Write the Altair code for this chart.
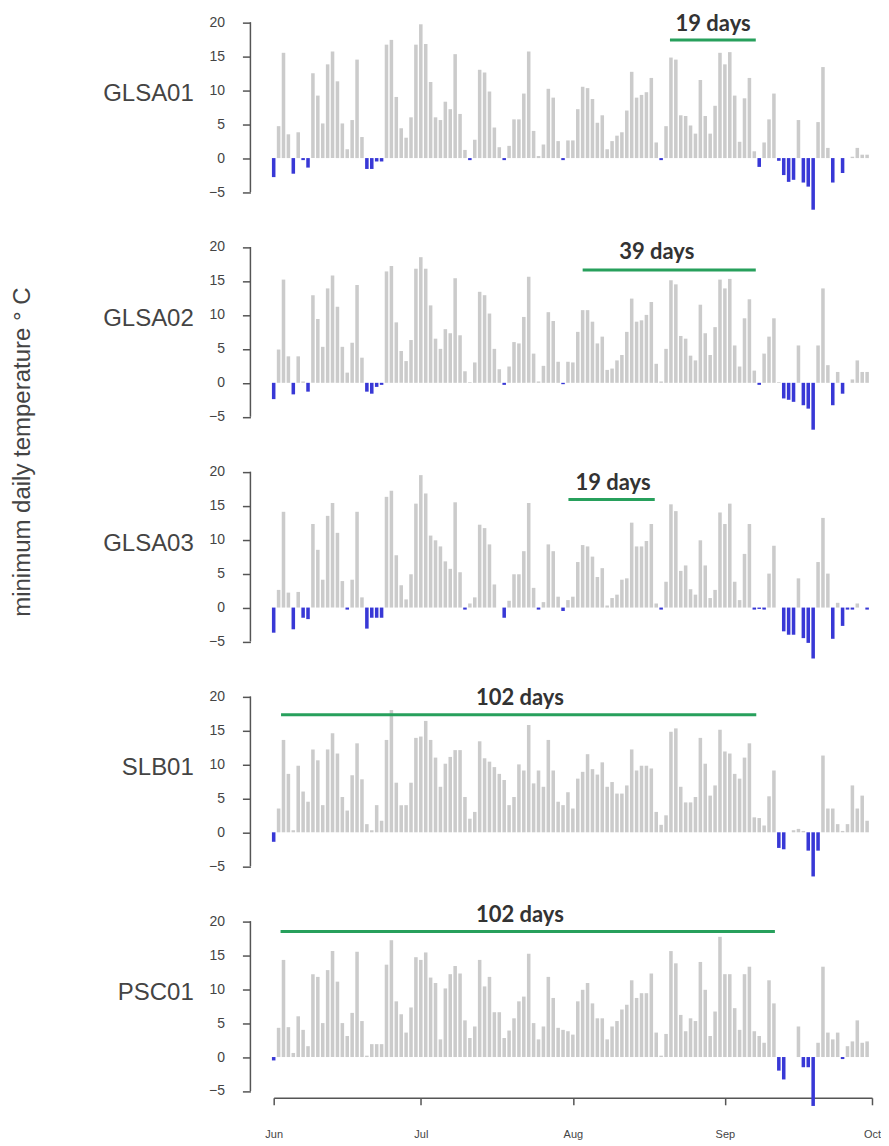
import json
import altair as alt
import pandas as pd

# ---------------- data ----------------
stations = ["GLSA01", "GLSA02", "GLSA03", "SLB01", "PSC01"]

glsa01 = [-2.8, 4.7, 15.5, 3.5, -2.3, 3.8, -0.3, -1.4, 12.5, 9.2,
          5.1, 13.8, 15.7, 11.3, 5.1, 1.3, 5.6, 14.5, 3.1, -1.6,
          -1.6, -0.5, -0.5, 16.7, 17.4, 9.0, 4.4, 3.0, 6.0, 16.7,
          19.7, 16.8, 11.2, 6.0, 5.6, 8.3, 7.2, 15.3, 6.5, 1.2,
          -0.3, 2.7, 13.0, 12.6, 9.8, 4.5, 1.6, -0.3, 1.8, 5.7,
          5.7, 9.5, 15.7, 4.0, 0.3, 2.0, 10.2, 8.9, 2.5, -0.3,
          2.6, 2.6, 7.2, 10.5, 10.3, 8.7, 5.2, 6.3, 1.3, 2.5,
          3.3, 3.8, 7.0, 12.7, 8.9, 9.3, 9.7, 11.8, 2.3, -0.3,
          4.7, 14.8, 14.5, 6.3, 6.2, 4.8, 3.6, 11.5, 6.2, 3.6,
          7.7, 15.5, 13.8, 15.6, 9.2, 2.4, 8.8, 11.8, 1.0, -1.3,
          2.3, 5.7, 9.5, -0.4, -2.5, -3.5, -3.2, 5.6, -3.6, -4.2,
          -7.6, 5.3, 13.4, 1.5, -3.6, 0.0, -2.2, 0.0, 0.2, 1.5,
          0.5, 0.5]

glsa02 = [-2.4, 4.9, 15.2, 3.9, -1.7, 3.9, 0.2, -1.3, 12.9, 9.4,
          5.3, 13.9, 15.8, 11.2, 5.3, 1.5, 5.9, 14.4, 3.7, -1.3,
          -1.6, -0.6, -0.3, 16.4, 17.2, 8.9, 4.7, 3.2, 6.3, 16.8,
          18.5, 16.8, 11.4, 6.5, 5.0, 7.9, 7.3, 15.4, 7.0, 1.7,
          0.1, 3.0, 13.4, 12.9, 10.2, 5.0, 2.0, -0.3, 2.4, 6.0,
          5.8, 9.7, 15.6, 4.3, 0.2, 2.5, 10.4, 9.1, 3.1, -0.2,
          3.1, 3.0, 7.5, 10.7, 10.7, 9.0, 5.8, 6.8, 1.9, 2.1,
          3.3, 4.1, 7.5, 12.4, 9.0, 9.2, 10.0, 11.9, 2.8, 0.2,
          5.0, 15.1, 14.5, 6.9, 6.5, 4.0, 3.3, 11.5, 7.3, 4.1,
          8.2, 15.2, 13.9, 15.3, 5.5, 2.4, 9.5, 12.3, 1.8, -0.3,
          4.3, 6.8, 9.5, 0.1, -2.3, -2.5, -2.8, 5.5, -3.3, -3.8,
          -6.9, 5.5, 13.9, 2.6, -3.3, 1.6, -1.6, 0.0, 0.5, 3.3,
          1.6, 1.6]

glsa03 = [-3.7, 2.6, 14.1, 2.2, -3.2, 2.3, -1.5, -1.7, 12.3, 8.5,
          4.1, 13.5, 15.4, 11.0, 3.9, -0.3, 4.1, 14.1, 1.5, -3.1,
          -1.5, -1.5, -1.5, 16.3, 17.2, 7.7, 3.3, 1.2, 4.9, 15.3,
          19.5, 16.8, 10.6, 9.9, 9.0, 6.8, 5.7, 15.5, 5.2, -0.3,
          0.6, 1.5, 12.2, 11.7, 9.3, 3.4, 0.0, -1.5, 1.0, 4.9,
          4.9, 8.3, 15.4, 2.9, -0.3, 0.8, 9.3, 8.3, 1.6, -0.5,
          1.1, 1.6, 6.7, 9.2, 9.0, 7.5, 4.5, 5.8, 0.3, 1.4,
          1.9, 4.1, 4.3, 12.5, 9.0, 9.0, 9.8, 12.3, 0.6, -0.3,
          3.8, 15.2, 14.2, 5.4, 6.2, 2.7, 1.9, 9.9, 6.2, 1.4,
          2.6, 14.0, 12.3, 15.3, 3.8, 1.1, 7.9, 12.3, -0.3, -0.2,
          -0.3, 5.0, 9.1, 0.0, -3.5, -4.0, -4.0, 4.3, -4.5, -5.2,
          -7.5, 6.7, 13.2, 5.0, -4.6, 0.7, -2.7, -0.3, -0.3, 0.6,
          0.0, -0.3]

slb01 = [-1.4, 3.5, 13.6, 8.6, 0.3, 9.8, 6.0, 4.5, 12.2, 10.6,
         4.0, 12.2, 14.6, 11.6, 5.2, 3.2, 8.4, 13.1, 7.8, 1.2,
         0.3, 4.0, 1.7, 13.6, 18.0, 7.3, 4.0, 4.0, 7.3, 13.9,
         14.1, 16.4, 13.6, 11.0, 6.7, 10.1, 11.1, 12.1, 12.1, 5.2,
         2.0, 3.0, 13.4, 10.9, 10.4, 9.6, 8.6, 7.7, 4.0, 5.2,
         10.0, 9.1, 15.8, 7.2, 9.1, 6.7, 13.6, 9.1, 4.5, 4.0,
         5.9, 3.5, 7.9, 8.9, 11.5, 9.3, 8.5, 10.3, 6.7, 7.4,
         5.7, 5.7, 6.9, 12.2, 9.1, 9.8, 9.8, 9.4, 3.0, 1.1,
         2.5, 14.8, 15.3, 6.7, 4.4, 4.4, 5.2, 13.9, 10.1, 5.4,
         6.9, 15.1, 11.9, 11.6, 8.6, 7.9, 11.0, 13.1, 2.2, 2.1,
         1.0, 5.3, 9.1, -2.3, -2.5, 0.0, 0.3, 0.5, 0.2, -2.7,
         -6.5, -2.7, 11.3, 3.5, 3.5, 1.2, 0.2, 1.2, 6.9, 3.5,
         5.4, 1.7]

psc01 = [-0.5, 4.3, 14.3, 4.4, 0.6, 6.0, 4.0, 1.6, 12.2, 11.8,
         5.0, 12.8, 15.6, 11.1, 5.0, 3.1, 6.5, 15.5, 5.3, 0.2,
         1.9, 1.9, 1.9, 13.6, 17.2, 8.2, 6.3, 3.6, 7.3, 14.7,
         14.3, 15.4, 11.7, 10.9, 2.6, 10.1, 12.2, 13.4, 12.3, 5.4,
         2.8, 4.5, 14.3, 10.4, 11.8, 6.6, 6.6, 2.8, 3.9, 5.7,
         8.2, 8.9, 15.2, 5.0, 2.6, 4.5, 11.8, 8.7, 4.3, 4.0,
         3.8, 3.3, 8.2, 9.9, 10.9, 7.9, 5.7, 5.7, 2.6, 4.5,
         5.3, 7.0, 7.7, 11.3, 8.7, 9.4, 9.4, 12.3, 3.6, 0.2,
         3.4, 15.6, 13.8, 6.2, 3.8, 5.7, 5.3, 14.0, 9.9, 3.1,
         6.7, 17.7, 12.2, 12.2, 7.2, 4.0, 12.2, 13.3, 3.8, 3.1,
         2.1, 11.3, 7.9, -2.0, -3.3, 0.0, 0.0, 4.5, -1.5, -1.5,
         -7.2, 2.1, 13.3, 3.6, 2.6, 3.6, -0.3, 1.6, 2.3, 5.4,
         2.1, 2.3]

series = [glsa01, glsa02, glsa03, slb01, psc01]
days = list(range(122))  # day index from 1 June

month_ticks = [0, 30, 61, 92, 122]
month_labels = ["Jun", "Jul", "Aug", "Sep", "Oct"]
y_ticks = [-5, 0, 5, 10, 15, 20]

# annotated runs of days above zero (in day index / degree units)
ann_label = ["19 days", "39 days", "19 days", "102 days", "102 days"]
ann_start = [80.8, 63.0, 60.1, 1.5, 1.4]
ann_end = [98.3, 98.3, 77.7, 98.4, 102.2]
ann_line_y = [17.4, 16.6, 15.9, 17.3, 18.5]
ann_text_x = [89.6, 78.1, 69.2, 50.2, 50.2]
ann_text_y = [19.7, 19.2, 18.3, 19.7, 20.9]

y_title = "minimum daily temperature \u00b0 C"

# ---------------- style ----------------
GRAY = "#cbcbcb"
BLUE = "#3838d6"
GREEN = "#27a05c"
AX = "#555555"
TXT = "#444444"
PXU = 6.8          # pixels per degree
DAYPX = 4.91       # pixels per day
WIDTH = 122 * DAYPX
AXOFF = 23.3

label_expr = "{}[indexof({}, datum.value)]".format(json.dumps(month_labels), json.dumps(month_ticks))


def panel(k):
    last = k == len(stations) - 1
    ymin = -6 if last else -8
    height = (22 - ymin) * PXU
    xscale = alt.Scale(domain=[0, 122], nice=False, zero=False)
    yscale = alt.Scale(domain=[ymin, 22], nice=False, zero=False)

    if last:
        xaxis = alt.Axis(values=month_ticks, labelExpr=label_expr, title=None, grid=False,
                         domainColor=AX, domainWidth=1.5, tickColor=AX, tickWidth=1.5,
                         tickSize=7, labelPadding=24, labelFontSize=11,
                         labelFont="Liberation Sans", labelColor=TXT, labelFlush=False)
    else:
        xaxis = None

    yaxis = alt.Axis(values=y_ticks, domain=False, grid=False, offset=AXOFF, title=None,
                     tickColor=AX, tickWidth=1.5, tickSize=8, labelPadding=18,
                     labelFontSize=14, labelFont="Liberation Sans", labelColor=TXT)

    df = pd.DataFrame({"d": days, "v": series[k]})
    bars = alt.Chart(df).transform_calculate(
        x0="datum.d - 0.36", x1="datum.d + 0.36"
    ).mark_bar(strokeWidth=0).encode(
        x=alt.X("x0:Q", scale=xscale, axis=xaxis),
        x2="x1:Q",
        y=alt.Y("v:Q", scale=yscale, axis=yaxis, stack=None),
        y2=alt.datum(0),
        color=alt.condition("datum.v < 0", alt.value(BLUE), alt.value(GRAY)),
    )

    axis_df = pd.DataFrame({"lo": [y_ticks[0]], "hi": [y_ticks[-1]]})
    yline = alt.Chart(axis_df).mark_rule(color=AX, strokeWidth=1.5).encode(
        x=alt.value(-AXOFF),
        y=alt.Y("lo:Q", scale=yscale, axis=yaxis),
        y2="hi:Q",
    )

    name_df = pd.DataFrame({"yv": [9.4], "name": [stations[k]]})
    name = alt.Chart(name_df).mark_text(
        align="right", baseline="middle", font="Liberation Sans", fontSize=24, color=TXT
    ).encode(
        x=alt.value(-80),
        y=alt.Y("yv:Q", scale=yscale, axis=yaxis),
        text="name:N",
    )

    ann_df = pd.DataFrame({
        "s": [ann_start[k]], "e": [ann_end[k]], "ly": [ann_line_y[k]],
        "tx": [ann_text_x[k]], "ty": [ann_text_y[k]], "label": [ann_label[k]],
    })
    rule = alt.Chart(ann_df).mark_rule(color=GREEN, strokeWidth=3).encode(
        x=alt.X("s:Q", scale=xscale, axis=xaxis),
        x2="e:Q",
        y=alt.Y("ly:Q", scale=yscale, axis=yaxis),
    )
    txt = alt.Chart(ann_df).mark_text(
        font="Lato", fontWeight="bold", fontSize=22, color="#333333", baseline="middle"
    ).encode(
        x=alt.X("tx:Q", scale=xscale, axis=xaxis),
        y=alt.Y("ty:Q", scale=yscale, axis=yaxis),
        text="label:N",
    )

    layers = [bars, yline, name, rule, txt]
    if k == 2:
        tdf = pd.DataFrame({"t": [y_title]})
        title = alt.Chart(tdf).mark_text(
            angle=270, align="center", baseline="middle",
            font="Liberation Sans", fontSize=24, color=TXT
        ).encode(
            x=alt.value(22 - 273.3),
            y=alt.value(-6),
            text="t:N",
        )
        layers.append(title)

    return alt.layer(*layers).properties(width=WIDTH, height=height)


chart = alt.vconcat(
    *[panel(k) for k in range(len(stations))], spacing=21, bounds="flush"
).resolve_scale(
    x="independent", y="independent"
).properties(
    padding={"left": 2, "top": 0, "right": 0, "bottom": 0}
).configure_view(stroke=None)

chart.save("out.html", embed_options={"renderer": "svg", "actions": False})
